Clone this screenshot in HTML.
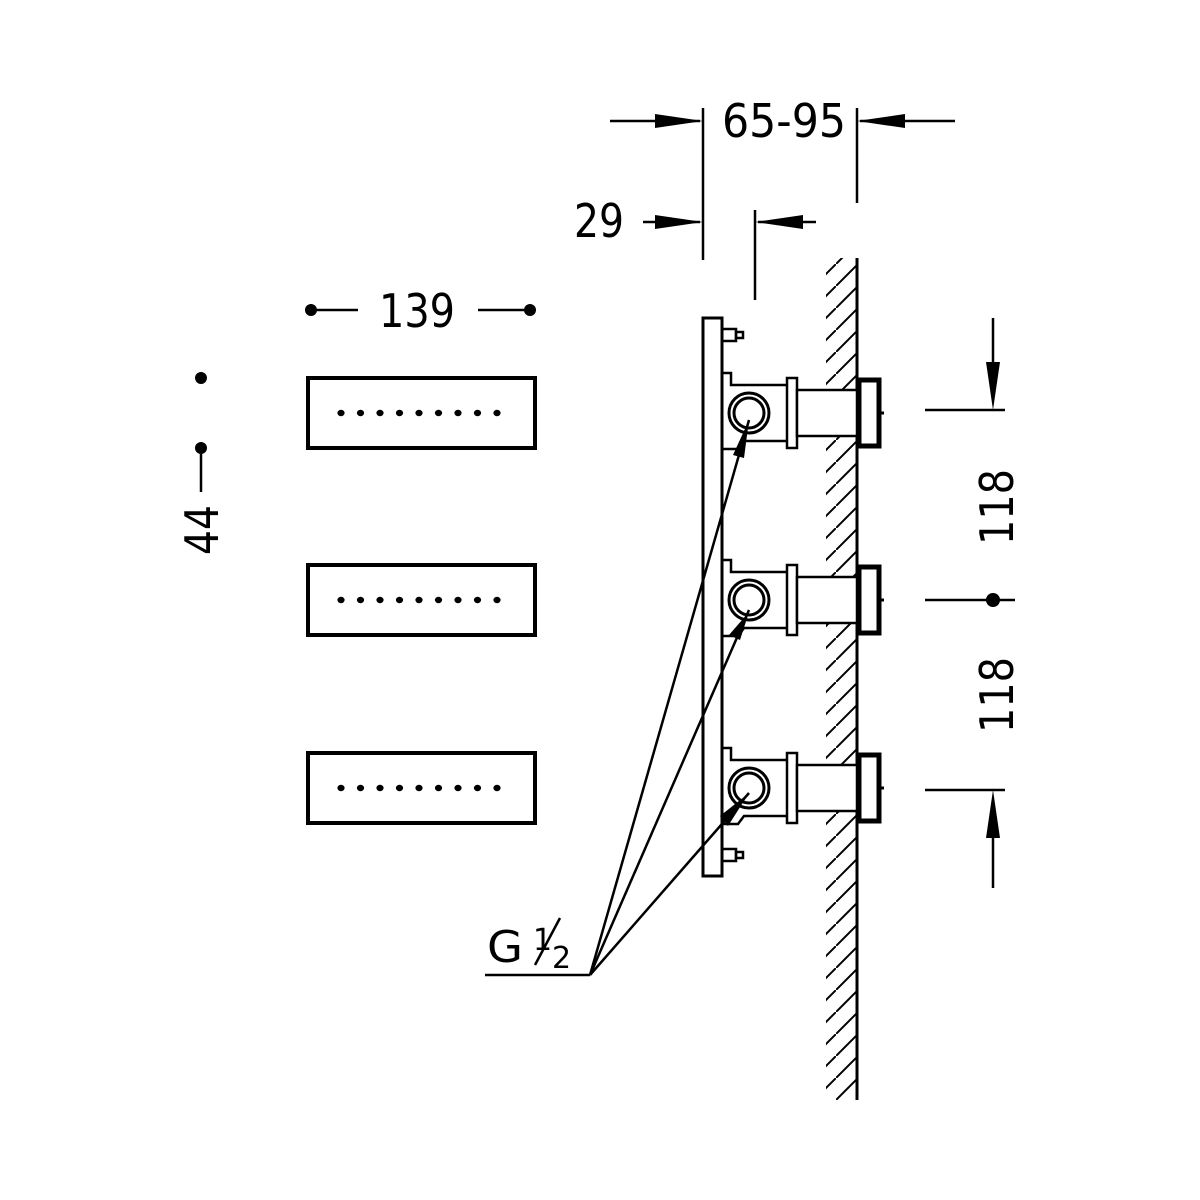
<!DOCTYPE html>
<html><head><meta charset="utf-8"><style>
html,body{margin:0;padding:0;background:#fff;}
svg{display:block}
text{font-family:"DejaVu Sans","Liberation Sans",sans-serif;fill:#000;}
</style></head><body>
<svg width="1200" height="1200" viewBox="0 0 1200 1200" xmlns="http://www.w3.org/2000/svg">
<defs>
<pattern id="h" width="22" height="22" patternUnits="userSpaceOnUse">
<line x1="-2" y1="24" x2="24" y2="-2" stroke="#000" stroke-width="2"/>
</pattern>
<g id="mod">
 <rect x="308" y="-35" width="227" height="70" fill="none" stroke="#000" stroke-width="4"/>
 <g fill="#000">
  <ellipse cx="341" cy="0" rx="3.6" ry="3.2"/><ellipse cx="360.5" cy="0" rx="3.6" ry="3.2"/><ellipse cx="380" cy="0" rx="3.6" ry="3.2"/>
  <ellipse cx="399.5" cy="0" rx="3.6" ry="3.2"/><ellipse cx="419" cy="0" rx="3.6" ry="3.2"/><ellipse cx="438.5" cy="0" rx="3.6" ry="3.2"/>
  <ellipse cx="458" cy="0" rx="3.6" ry="3.2"/><ellipse cx="477.5" cy="0" rx="3.6" ry="3.2"/><ellipse cx="497" cy="0" rx="3.6" ry="3.2"/>
 </g>
</g>
<g id="fit" fill="none" stroke="#000" stroke-width="2.5">
 <path d="M722,-40 H731 V-28 H790 V28 H744 L738,36 H722"/>
 <rect x="787" y="-35" width="10" height="70" fill="#fff"/>
 <rect x="797" y="-23" width="60" height="46" fill="#fff"/>
 <rect x="859" y="-33" width="20" height="66" stroke-width="5" fill="#fff"/>
 <line x1="880" y1="0" x2="884" y2="0" stroke-width="3"/>
 <circle cx="749" cy="0" r="20" fill="#fff" stroke-width="3"/>
 <circle cx="749" cy="0" r="15" stroke-width="3"/>
</g>
</defs>

<rect x="826" y="258" width="31" height="842" fill="url(#h)"/>
<line x1="857" y1="258" x2="857" y2="1100" stroke="#000" stroke-width="3"/>

<rect x="703" y="318" width="19" height="558" fill="#fff" stroke="#000" stroke-width="3"/>
<g fill="none" stroke="#000" stroke-width="2.5">
 <rect x="722" y="329" width="14" height="12"/><rect x="736" y="332" width="7" height="6"/>
 <rect x="722" y="849" width="14" height="12"/><rect x="736" y="852" width="7" height="6"/>
</g>

<use href="#fit" transform="translate(0,413)"/>
<use href="#fit" transform="translate(0,600)"/>
<use href="#fit" transform="translate(0,788)"/>

<use href="#mod" transform="translate(0,413)"/>
<use href="#mod" transform="translate(0,600)"/>
<use href="#mod" transform="translate(0,788)"/>

<g stroke="#000" stroke-width="2.5" fill="none">
 <polyline points="485,975 590,975"/>
 <line x1="590" y1="975" x2="749" y2="420"/>
 <line x1="590" y1="975" x2="749" y2="610"/>
 <line x1="590" y1="975" x2="749" y2="793"/>
</g>
<g fill="#000">
 <polygon points="749,420 744,458 733,455"/>
 <polygon points="749,612 740,640 729,635"/>
 <polygon points="749,793 728,826 720,816"/>
</g>
<text x="487" y="962" font-size="44" textLength="36" lengthAdjust="spacingAndGlyphs">G</text>
<text x="533" y="950" font-size="30">1</text>
<line x1="535" y1="965" x2="560" y2="918" stroke="#000" stroke-width="2.5"/>
<text x="552" y="968" font-size="30">2</text>

<g stroke="#000" stroke-width="2.5">
 <line x1="703" y1="108" x2="703" y2="260"/>
 <line x1="857" y1="108" x2="857" y2="203"/>
 <line x1="755" y1="210" x2="755" y2="300"/>
 <line x1="610" y1="121" x2="700" y2="121"/>
 <line x1="860" y1="121" x2="955" y2="121"/>
 <line x1="643" y1="222" x2="700" y2="222"/>
 <line x1="758" y1="222" x2="816" y2="222"/>
</g>
<g fill="#000">
 <polygon points="703,121 655,114 655,128"/>
 <polygon points="857,121 905,114 905,128"/>
 <polygon points="703,222 655,215 655,229"/>
 <polygon points="755,222 803,215 803,229"/>
</g>
<text x="722" y="137" font-size="46" textLength="124" lengthAdjust="spacingAndGlyphs">65-95</text>
<text x="574" y="237" font-size="46" textLength="50" lengthAdjust="spacingAndGlyphs">29</text>

<g fill="#000"><circle cx="311" cy="310" r="6"/><circle cx="530" cy="310" r="6"/>
<circle cx="201" cy="378" r="6"/><circle cx="201" cy="448" r="6"/><circle cx="993" cy="600" r="7"/></g>
<g stroke="#000" stroke-width="2.5">
 <line x1="311" y1="310" x2="358" y2="310"/>
 <line x1="478" y1="310" x2="530" y2="310"/>
 <line x1="201" y1="448" x2="201" y2="492"/>
</g>
<text x="379" y="327" font-size="46" textLength="76" lengthAdjust="spacingAndGlyphs">139</text>
<text transform="translate(218,555) rotate(-90)" font-size="46" textLength="50" lengthAdjust="spacingAndGlyphs">44</text>

<g stroke="#000" stroke-width="2.5">
 <line x1="925" y1="410" x2="1005" y2="410"/>
 <line x1="925" y1="600" x2="1015" y2="600"/>
 <line x1="925" y1="790" x2="1005" y2="790"/>
 <line x1="993" y1="318" x2="993" y2="370"/>
 <line x1="993" y1="830" x2="993" y2="888"/>
</g>
<g fill="#000">
 <polygon points="993,410 986,362 1000,362"/>
 <polygon points="993,790 986,838 1000,838"/>
</g>
<text transform="translate(1013,545) rotate(-90)" font-size="46" textLength="76" lengthAdjust="spacingAndGlyphs">118</text>
<text transform="translate(1013,733) rotate(-90)" font-size="46" textLength="76" lengthAdjust="spacingAndGlyphs">118</text>
</svg>
</body></html>
